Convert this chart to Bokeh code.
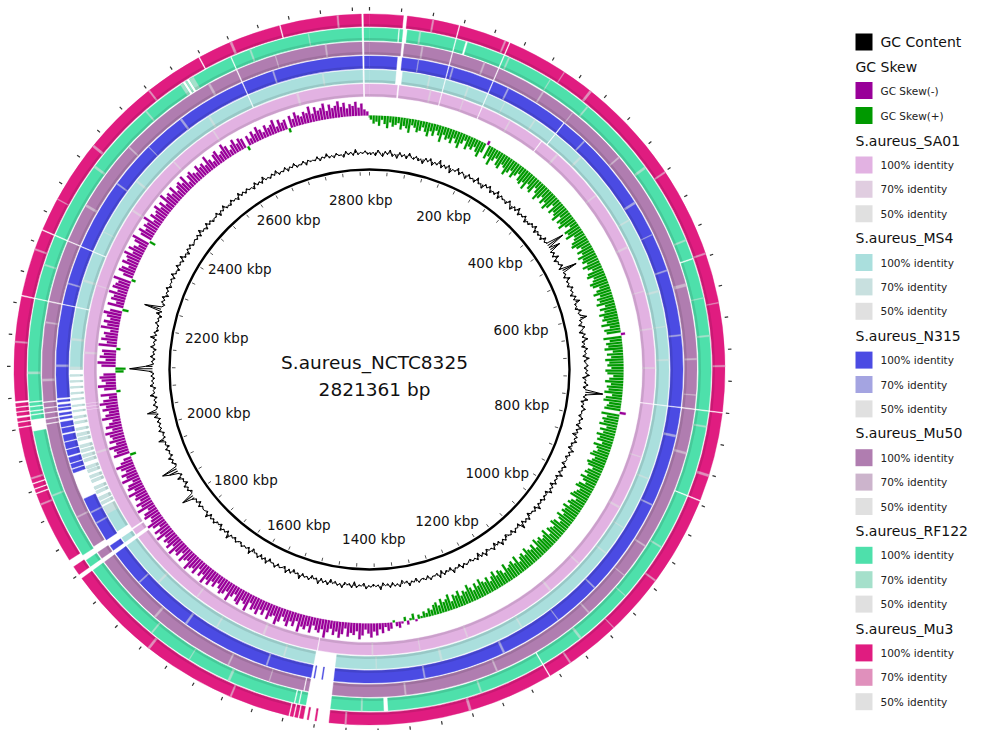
import math
from bokeh.plotting import figure
from bokeh.models import Range1d, ColumnDataSource
from bokeh.core.properties import value
from bokeh.embed import file_html
from bokeh.resources import INLINE

# ---------------------------------------------------------------- data
genome_name = "S.aureus_NCTC8325"
genome_bp = 2821361
window_kbp = 5

# GC content (%) per 5 kbp window
gc_content = [
    32.6, 33.2, 32.4, 33.7, 32.9, 32.3, 33.5, 32.8, 33.9, 32.5, 33.1, 32.2, 33.6, 32.7, 33.3, 32.4, 33.8, 32.9, 32.6, 33.4,
    32.5, 33.0, 32.1, 33.5, 32.8, 33.7, 32.3, 33.2, 32.7, 34.0, 32.4, 33.3, 32.6, 33.6, 32.0, 33.1, 32.8, 33.8, 32.5, 33.4,
    32.9, 32.3, 33.6, 32.8, 33.2, 32.5, 33.9, 32.7, 33.0, 32.2, 33.5, 32.9, 33.7, 32.4, 33.1, 32.6, 33.8, 32.3, 33.4, 32.8,
    33.1, 32.5, 33.7, 32.9, 32.2, 33.4, 32.7, 33.9, 32.4, 33.2, 32.8, 33.6, 32.3, 33.0, 32.6, 33.5, 32.9, 33.8, 32.4, 33.3,
    32.7, 33.3, 32.5, 33.8, 32.9, 33.4, 37.2, 33.1, 35.6, 32.8, 33.5, 32.6, 33.9, 32.4, 33.2, 32.9, 33.7, 32.5, 36.5, 33.0,
    33.4, 32.6, 33.9, 32.8, 33.2, 32.5, 33.7, 32.9, 33.3, 32.4, 33.6, 32.8, 34.1, 32.7, 33.0, 32.5, 33.8, 32.9, 33.4, 34.6,
    32.8, 33.3, 32.4, 33.7, 32.9, 32.2, 33.5, 32.7, 33.9, 32.5, 33.1, 32.3, 33.6, 32.8, 33.2, 32.4, 33.8, 32.6, 33.0, 33.5,
    32.6, 33.4, 32.9, 33.8, 32.3, 33.1, 32.7, 33.6, 32.5, 33.3, 37.0, 33.5, 32.8, 33.9, 32.4, 33.2, 32.6, 33.7, 32.9, 33.1,
    32.5, 33.6, 32.8, 33.2, 32.4, 33.9, 32.7, 33.3, 32.2, 33.5, 32.9, 33.7, 32.6, 33.0, 32.3, 33.8, 32.8, 33.4, 32.5, 33.1,
    33.0, 32.4, 33.7, 32.9, 33.3, 32.6, 33.9, 32.5, 33.2, 32.8, 33.6, 32.3, 33.4, 32.9, 33.8, 32.4, 33.1, 32.7, 33.5, 32.6,
    33.2, 32.7, 33.9, 32.5, 33.4, 32.8, 33.0, 32.3, 33.7, 32.9, 33.5, 32.6, 34.2, 32.4, 33.1, 32.8, 33.6, 32.5, 33.3, 32.9,
    32.4, 33.5, 32.8, 33.9, 32.6, 33.2, 32.3, 33.7, 32.9, 33.1, 32.5, 33.8, 32.7, 33.4, 32.2, 33.6, 32.9, 33.3, 32.6, 33.0,
    33.4, 32.8, 33.7, 32.5, 33.2, 32.9, 33.9, 32.4, 33.1, 32.7, 33.5, 32.3, 33.8, 32.6, 33.0, 32.9, 33.6, 32.5, 33.3, 32.8,
    32.9, 33.5, 32.4, 33.2, 32.8, 33.8, 32.6, 33.0, 32.3, 33.7, 32.9, 33.4, 32.5, 33.6, 32.7, 33.1, 32.4, 33.9, 32.8, 33.2,
    32.6, 33.3, 32.9, 33.7, 32.4, 33.1, 32.8, 33.5, 32.2, 33.6, 32.7, 33.0, 32.5, 33.8, 32.9, 33.4, 32.6, 33.2, 32.3, 33.7,
    32.8, 33.4, 32.5, 33.9, 32.7, 33.1, 32.4, 33.6, 32.9, 33.3, 32.6, 34.0, 32.8, 33.2, 32.4, 33.5, 32.7, 33.8, 32.5, 33.0,
    33.3, 32.6, 33.7, 32.9, 33.1, 32.4, 33.8, 32.7, 33.4, 32.5, 33.6, 32.8, 33.0, 32.3, 33.9, 32.6, 33.2, 32.9, 33.5, 32.7,
    32.9, 33.5, 32.6, 33.2, 32.8, 34.1, 32.5, 33.3, 32.9, 33.7, 32.4, 33.0, 32.7, 33.6, 32.8, 33.4, 32.5, 33.9, 32.7, 33.1,
    33.2, 32.8, 33.6, 32.5, 33.4, 32.9, 33.8, 35.9, 33.1, 32.6, 33.5, 32.9, 33.7, 32.4, 33.2, 32.8, 34.0, 32.6, 33.3, 35.2,
    36.6, 33.0, 32.7, 33.5, 32.9, 33.8, 32.6, 33.2, 32.8, 33.6, 32.5, 33.3, 32.9, 34.4, 32.7, 33.1, 32.6, 33.7, 32.9, 33.4,
    32.8, 33.5, 32.6, 33.9, 32.9, 35.2, 33.1, 32.7, 33.6, 32.8, 33.3, 32.5, 34.0, 32.9, 33.2, 32.6, 33.8, 32.9, 33.4, 32.7,
    33.5, 32.8, 33.9, 38.2, 34.6, 32.9, 33.4, 32.6, 33.7, 32.8, 33.2, 32.5, 33.8, 32.9, 33.3, 32.7, 34.1, 32.8, 33.5, 32.6,
    33.0, 32.7, 33.6, 32.9, 33.3, 32.5, 33.9, 32.8, 36.9, 33.1, 32.6, 33.5, 32.9, 33.7, 32.4, 33.2, 32.8, 33.6, 32.5, 33.1,
    32.9, 33.4, 32.6, 33.8, 32.8, 33.1, 32.5, 33.7, 32.9, 33.3, 32.6, 33.9, 32.7, 33.2, 32.4, 33.5, 32.9, 33.6, 32.7, 33.0,
    33.3, 32.8, 33.5, 32.6, 33.9, 32.9, 33.2, 32.5, 33.7, 32.8, 33.4, 32.6, 33.1, 32.9, 33.6, 32.4, 33.3, 32.8, 33.8, 32.7,
    33.0, 32.6, 33.6, 32.9, 33.2, 32.5, 33.8, 32.8, 33.4, 32.7, 33.5, 32.9, 33.1, 32.4, 33.7, 32.8, 33.3, 32.6, 33.9, 32.9,
    33.2, 32.7, 33.5, 32.9, 33.8, 32.6, 33.1, 32.8, 33.6, 32.5, 33.3, 32.9, 33.7, 32.6, 33.0, 32.8, 33.5, 32.4, 33.4, 32.9,
    33.1, 32.8, 33.6, 32.5, 33.3, 32.9, 33.8, 32.7, 33.2, 32.6, 33.5, 32.9, 33.0, 32.4, 33.7, 32.8, 33.4, 32.6, 33.9, 32.7,
    33.2, 32.9, 33.5, 32.7, 33.1,
]

# GC skew (%) per 5 kbp window
gc_skew = [
    2, 4, 3, 5, 2, 4, 6, 3, 5, 4, 3, 6, 4, 5, 7, 3, 4, 6, 5, 3,
    5, 7, 4, 6, 3, 5, 8, 4, 6, 5, 7, 4, 6, 8, 5, 3, 7, 5, 6, 4,
    6, 8, 5, -2, 7, 5, 9, 6, 4, 7, 8, 5, 6, 9, 7, 5, 8, 6, 4, 7,
    8, 6, 9, 5, 7, 8, 4, 6, 9, 7, 5, 8, 6, 9, 7, 4, 8, 6, 7, 9,
    5, 8, 7, 9, 6, 4, 8, 7, 9, 5, 6, 8, 9, 7, 5, 8, 6, 9, 7, 8,
    6, 9, 7, 5, 8, 9, 6, 7, 9, 8, 5, 7, 9, 6, 8, 7, 9, 5, 8, 6,
    9, 7, 8, 6, 9, 5, 8, 7, -2, 9, 6, 8, 7, 9, 5, 8, 6, 9, 7, 8,
    6, 9, 8, 5, 7, 9, 6, 8, 7, 9, 5, 8, 9, 6, 7, 8, -3, 9, 6, 8,
    7, 9, 5, 8, 6, 9, 7, 8, 5, 9, 7, 6, 8, 9, 6, 7, 9, 8, 5, 7,
    8, 6, 9, 7, 5, 8, 9, 6, 7, 8, 9, 5, 7, 8, 6, 9, 7, 8, 6, 9,
    7, 5, 8, 9, 6, 7, 8, 5, 9, 7, 6, 8, 7, 9, 5, 8, 6, 7, 9, 6,
    8, 7, 5, 9, 6, 8, 7, 6, 9, 5, 7, 8, 6, 9, 7, 5, 8, 6, 7, 9,
    6, 8, 5, 7, 9, 6, 7, 5, 8, 6, 7, 4, 8, 6, 5, 7, 4, 6, 5, 3,
    4, 2, 3, 1, 2, -1, 3, 1, -2, 2, -1, -3, -2, 1, -3, -4, -2, -5, -3, -6,
    -4, -7, -5, -3, -6, -8, -4, -6, -5, -7, -3, -6, -8, -5, -7, -4, -6, -9, -5, -7,
    -6, -4, -8, -5, -7, -6, -9, -4, -7, -5, -8, -6, -4, -7, -9, -5, -6, -8, -4, -7,
    -5, -8, -6, -7, -4, -9, -6, -5, -8, -7, -4, -6, -9, -5, -7, -8, -6, -4, -7, -5,
    -8, -6, -9, -5, -7, -4, -8, -6, -7, -9, -5, -6, -8, -4, -7, -6, -9, -5, -8, -6,
    -7, -5, -9, -6, -8, -4, -7, -9, -6, -5, -8, -7, -4, -9, -6, -8, -5, -7, -6, -9,
    -5, -8, -7, -4, -9, -6, -8, -5, -7, -9, -6, -4, 3, -8, -6, -7, -9, -5, -8, -6,
    -7, -9, -5, -8, -6, -4, -9, -7, -5, -8, -6, -9, -7, -4, -8, 2, -6, -9, -5, -7,
    -8, -6, 4, 5, -7, -9, -5, -8, -6, -7, 2, -9, -5, -8, -6, -7, -4, -9, -6, -8,
    -5, -7, -9, -6, 3, -8, -4, -7, -6, -9, -5, -8, -7, -6, -9, 2, -5, -8, -7, -4,
    -8, -6, -7, -9, -5, -8, -6, -4, -7, -9, 3, -6, -8, -5, -7, -6, -9, -4, -7, -5,
    -6, -8, -5, -7, -4, -9, -6, -7, -5, -8, -4, -6, -7, -5, -8, -3, -6, -7, -5, -4,
    -7, -5, -6, -4, -8, -5, -3, -6, -7, -4, -5, -8, -6, -3, -5, -7, -4, -6, -5, 2,
    -5, -3, -6, -4, -7, -5, -3, -6, -4, -5, -7, -3, -6, -4, -5, 2, -6, -4, -7, -5,
    -4, -6, -5, -8, -4, -7, -5, -6, -8, -4, -7, -5, -6, -8, -5, -7, -4, -6, -5, -7,
    -4, -6, -3, -2, 1,
]

ring_names = ["S.aureus_SA01", "S.aureus_MS4", "S.aureus_N315",
              "S.aureus_Mu50", "S.aureus_RF122", "S.aureus_Mu3"]
ring_colors_100 = ["#e2b2e2", "#aadfdd", "#4b4be3", "#b07db0", "#4ee0ab", "#e01c80"]
ring_colors_70 = ["#e0cde0", "#c8e0df", "#a4a4e1", "#ccb4cc", "#a5e0cb", "#e090bc"]
color_50 = "#e0e0e0"
skew_neg_color = "#990099"
skew_pos_color = "#009900"

# regions without BLAST hits (kbp)
shared_gaps = [(2811, 2814), (44, 47), (114, 116), (181, 183), (759, 761), (1834, 1840)]
gaps_sa01 = [(289, 291), (1492, 1494), (1849, 1852), (2052, 2053), (2057, 2058), (2062, 2063)]
gaps_ms4 = [(40, 50), (299, 301), (1462, 1495), (1848, 1860), (2209, 2211), (2296, 2298), (2633, 2635),
            (1902, 1906), (1910, 1913), (1918, 1924), (1928, 1931), (1935, 1942), (1946, 1949),
            (1953, 1958), (1962, 1964), (1968, 1975), (1979, 1982), (1986, 1990), (1994, 1997),
            (2001, 2008), (2012, 2015), (2019, 2024), (2027, 2034), (2037, 2042), (2045, 2052),
            (2054, 2060), (2062, 2070), (2072, 2079), (2081, 2088), (2090, 2097), (2099, 2106),
            (2108, 2116)]
gaps_n315 = [(40, 46), (299, 301), (1462, 1478), (1479.5, 1489.5), (1491, 1495), (1848, 1858),
             (1925, 1965), (2209, 2211), (2296, 2298), (2633, 2635),
             (1970, 1972), (1978, 1980), (1988, 1991), (1999, 2001), (2010, 2012), (2021, 2024),
             (2031, 2033), (2040, 2044), (2047, 2050), (2053, 2057), (2060, 2062), (2065, 2069),
             (2072, 2075)]
gaps_mu50 = [(44, 48), (1462, 1495), (1500, 1502), (1850, 1860), (2040, 2042), (2047, 2049),
             (2055, 2057), (2062, 2064), (2070, 2072), (2209, 2211), (2296, 2298), (2633, 2635)]
gaps_rf122 = [(38, 40), (46, 50), (128, 131), (556, 558), (874, 876), (1171, 1173), (1386, 1392),
              (1462, 1495), (1503, 1505), (1509, 1511), (1850, 1858), (2034, 2050), (2055, 2057),
              (2060, 2062), (2066, 2068), (2072, 2074), (2209, 2211), (2296, 2298), (2562, 2566),
              (2568, 2572), (2633, 2635)]
gaps_mu3 = [(43, 48), (874, 876), (1171, 1173), (1462, 1478), (1480, 1488), (1490, 1495),
            (1500, 1502), (1506, 1508), (1512, 1514), (1852, 1862), (1955, 1957), (1961, 1963),
            (1968, 1970), (2041, 2043), (2048, 2050), (2054, 2057), (2061, 2063), (2067, 2069),
            (2073, 2076), (2209, 2211), (2296, 2298), (2596, 2598), (2706, 2708)]

# lower identity (70%) segments (kbp)
low_sa01 = [(96, 98), (230, 232), (321, 324), (410, 412), (505, 508), (640, 642), (702, 704),
            (930, 933), (1040, 1042), (1101, 1104), (1252, 1254), (1405, 1407), (1580, 1583),
            (1701, 1703), (1982, 1985), (2141, 2144), (2380, 2383), (2481, 2483), (2560, 2562),
            (2705, 2708), (150, 151), (580, 581), (845, 846), (1330, 1331), (2250, 2251)]
low_ms4 = [(90, 92), (150, 152), (262, 264), (350, 353), (470, 472), (585, 588), (690, 692),
           (872, 874), (1001, 1003), (1170, 1172), (1300, 1303), (1540, 1542), (1650, 1652),
           (1760, 1763), (1890, 2120), (2160, 2163), (2250, 2253), (2420, 2423), (2566, 2569),
           (2750, 2752), (210, 211), (640, 641), (955, 956), (1400, 1401), (2330, 2331)]
low_n315 = [(120, 122), (205, 207), (338, 340), (452, 455), (560, 562), (655, 657), (800, 803),
            (905, 907), (1050, 1052), (1210, 1213), (1330, 1332), (1560, 1562), (1690, 1693),
            (1780, 1782), (1885, 1887), (1902, 1904), (2120, 2123), (2240, 2242), (2400, 2402),
            (2530, 2533), (2680, 2682), (70, 71), (505, 506), (1120, 1121), (2470, 2471)]
low_mu50 = [(72, 74), (160, 162), (250, 252), (388, 390), (586, 590), (690, 692), (820, 823),
            (960, 962), (1080, 1082), (1230, 1232), (1360, 1362), (1610, 1612), (1730, 1733),
            (1905, 1907), (2100, 2103), (2180, 2182), (2350, 2353), (2450, 2452), (2590, 2593),
            (2760, 2762), (300, 301), (740, 741), (1010, 1011), (1550, 1551), (2690, 2691)]
low_rf122 = [(66, 68), (188, 190), (310, 312), (420, 423), (530, 532), (660, 662), (780, 782),
             (950, 952), (1110, 1113), (1260, 1262), (1420, 1422), (1600, 1603), (1720, 1722),
             (1945, 1947), (2110, 2113), (2255, 2257), (2400, 2403), (2500, 2502), (2558, 2578),
             (2660, 2662), (250, 251), (610, 611), (1030, 1031), (1660, 1661), (2740, 2741)]
low_mu3 = [(80, 82), (175, 177), (300, 303), (440, 442), (555, 557), (700, 702), (840, 843),
           (990, 992), (1140, 1142), (1280, 1283), (1440, 1442), (1590, 1592), (1710, 1713),
           (1940, 1942), (1975, 1977), (2150, 2152), (2270, 2272), (2420, 2423), (2520, 2522),
           (2640, 2643), (2780, 2782), (260, 261), (620, 621), (1070, 1071), (2340, 2341)]

ring_gaps = [gaps_sa01, gaps_ms4, gaps_n315, gaps_mu50, gaps_rf122, gaps_mu3]
ring_low = [low_sa01, low_ms4, low_n315, low_mu50, low_rf122, low_mu3]

label_step_kbp = 200
tick_step_kbp = 40

# ---------------------------------------------------------------- layout
W, H = 981, 730
CX, CY = 369, H - 369
L_kbp = genome_bp / 1000.0

R_BACKBONE = 200
R_GC = 217
GC_PX = 4.5
R_SKEW = 254
SKEW_PX = 2.0
SKEW_BAR_FRAC = 0.78
RING_R0 = 273
RING_STEP = 14
RING_W = 12.5
R_TICK_OUT = 359
FONT = value("DejaVu Sans")


def theta(kbp):
    return 2 * math.pi * kbp / L_kbp


def bangle(kbp):
    return math.pi / 2 - theta(kbp)


def polar(r, kbp):
    t = theta(kbp)
    return CX + r * math.sin(t), CY + r * math.cos(t)


def complement(gaps, lo, hi):
    out, cur = [], lo
    for a, b in sorted(gaps):
        if b <= cur or a >= hi:
            continue
        if a > cur:
            out.append((cur, a))
        cur = max(cur, b)
    if cur < hi:
        out.append((cur, hi))
    return out


p = figure(width=W, height=H, x_range=Range1d(0, W), y_range=Range1d(0, H),
           output_backend="svg", toolbar_location=None, min_border=0,
           x_axis_type=None, y_axis_type=None)
p.grid.visible = False
p.outline_line_color = None
p.background_fill_color = "white"


def wedges(segs, r_in, r_out, colors, alpha=1.0, lw=0.4):
    n = len(segs)
    src = ColumnDataSource(dict(
        x=[CX] * n, y=[CY] * n,
        ri=r_in if isinstance(r_in, list) else [r_in] * n,
        ro=r_out if isinstance(r_out, list) else [r_out] * n,
        sa=[bangle(b) for a, b in segs], ea=[bangle(a) for a, b in segs],
        c=colors if isinstance(colors, list) else [colors] * n))
    p.annular_wedge(x="x", y="y", inner_radius="ri", outer_radius="ro",
                    start_angle="sa", end_angle="ea", direction="anticlock",
                    fill_color="c", line_color="c", line_width=lw,
                    fill_alpha=alpha, line_alpha=alpha, source=src)


# ---- BLAST identity rings
for k in range(len(ring_names)):
    r_in = RING_R0 + k * RING_STEP
    r_out = r_in + RING_W
    gaps = shared_gaps + ring_gaps[k]
    hits = complement(gaps, 0, L_kbp)
    wedges(hits, r_in, r_out, ring_colors_100[k])
    low = []
    for a, b in ring_low[k]:
        low += complement(gaps, a, b)
    wedges(low, r_in, r_out, ring_colors_70[k])
    # slight shading along the inner edge of each ring
    wedges(hits, r_in, r_in + 2.5, "#000000", alpha=0.10, lw=0)

# ---- GC skew: one bar per window, negative outward, positive inward
sk_segs, sk_in, sk_out, sk_col = [], [], [], []
for i, v in enumerate(gc_skew):
    a = i * window_kbp
    b = min((i + 1) * window_kbp, L_kbp)
    pad = (b - a) * (1 - SKEW_BAR_FRAC) / 2
    sk_segs.append((a + pad, b - pad))
    if v < 0:
        sk_in.append(R_SKEW)
        sk_out.append(R_SKEW - v * SKEW_PX)
        sk_col.append(skew_neg_color)
    else:
        sk_in.append(R_SKEW - v * SKEW_PX)
        sk_out.append(R_SKEW)
        sk_col.append(skew_pos_color)
wedges(sk_segs, sk_in, sk_out, sk_col, lw=0.2)

# ---- GC content
gc_mean = sum(gc_content) / len(gc_content)
xs0, ys0, xs1, ys1, lx, ly = [], [], [], [], [], []
for i, g in enumerate(gc_content):
    mid = min((i + 0.5) * window_kbp, L_kbp)
    r_tip = R_GC + (g - gc_mean) * GC_PX
    x0, y0 = polar(R_GC, mid)
    x1, y1 = polar(r_tip, mid)
    xs0.append(x0); ys0.append(y0); xs1.append(x1); ys1.append(y1)
    lx.append(x1); ly.append(y1)
lx.append(lx[0]); ly.append(ly[0])
p.segment(xs0, ys0, xs1, ys1, line_color="black", line_width=1.1)
p.line(lx, ly, line_color="black", line_width=1.0)

# ---- backbone circle with ticks and labels
p.circle(x=[CX], y=[CY], radius=R_BACKBONE, fill_color=None,
         line_color="black", line_width=2.4)
tx0, ty0, tx1, ty1 = [], [], [], []
kb = 0
while kb < L_kbp:
    x0, y0 = polar(R_BACKBONE - 2.5, kb)
    x1, y1 = polar(R_BACKBONE - 6, kb)
    tx0.append(x0); ty0.append(y0); tx1.append(x1); ty1.append(y1)
    kb += tick_step_kbp
p.segment(tx0, ty0, tx1, ty1, line_color="#555555", line_width=1)

ox0, oy0, ox1, oy1 = [], [], [], []
kb = 0
while kb < L_kbp:
    x0, y0 = polar(R_TICK_OUT, kb)
    x1, y1 = polar(R_TICK_OUT + 3.5, kb)
    ox0.append(x0); oy0.append(y0); ox1.append(x1); oy1.append(y1)
    kb += tick_step_kbp
p.segment(ox0, oy0, ox1, oy1, line_color="#333333", line_width=1.2)

# tick labels sit inside the backbone, pulled in more where they lie sideways
lab_x, lab_y, lab_t = [], [], []
kb = label_step_kbp
while kb < L_kbp:
    t = theta(kb)
    rx = 185 - 30 * abs(math.sin(t))
    lab_x.append(CX + rx * math.sin(t))
    lab_y.append(CY + 170 * math.cos(t))
    lab_t.append(f"{kb} kbp")
    kb += label_step_kbp
p.text(lab_x, lab_y, text=lab_t, text_align="center", text_baseline="middle",
       text_font=FONT, text_font_size="13.5px", text_color="#111111")

p.text([374, 374], [H - 362, H - 389], text=[genome_name, f"{genome_bp} bp"],
       text_align="center", text_baseline="middle", text_font=FONT,
       text_font_size="18.5px", text_color="#111111")

# ---- legend
LX = 863.5
SQ = 17
TX = 880
leg_sq_x, leg_sq_y, leg_sq_c = [], [], []
small_x, small_y, small_t = [], [], []
big_x, big_y, big_t = [], [], []

leg_sq_x.append(LX); leg_sq_y.append(H - 41.5); leg_sq_c.append("#000000")
big_x.append(TX); big_y.append(H - 41.5); big_t.append("GC Content")
big_x.append(855); big_y.append(H - 66); big_t.append("GC Skew")
for yy, c, t in [(90, skew_neg_color, "GC Skew(-)"), (115, skew_pos_color, "GC Skew(+)")]:
    leg_sq_x.append(LX); leg_sq_y.append(H - yy); leg_sq_c.append(c)
    small_x.append(TX); small_y.append(H - yy); small_t.append(t)

for k, name in enumerate(ring_names):
    y_head = 140 + k * 97.6
    big_x.append(855); big_y.append(H - y_head); big_t.append(name)
    for j, (c, t) in enumerate([(ring_colors_100[k], "100% identity"),
                                (ring_colors_70[k], "70% identity"),
                                (color_50, "50% identity")]):
        yy = y_head + 24.4 * (j + 1)
        leg_sq_x.append(LX); leg_sq_y.append(H - yy); leg_sq_c.append(c)
        small_x.append(TX); small_y.append(H - yy); small_t.append(t)

p.rect(leg_sq_x, leg_sq_y, width=SQ, height=SQ, fill_color=leg_sq_c, line_color=None)
p.text(big_x, big_y, text=big_t, text_align="left", text_baseline="middle",
       text_font=FONT, text_font_size="14px", text_color="#111111")
p.text(small_x, small_y, text=small_t, text_align="left", text_baseline="middle",
       text_font=FONT, text_font_size="10.5px", text_color="#222222")

open("out.html", "w").write(file_html(p, INLINE))
